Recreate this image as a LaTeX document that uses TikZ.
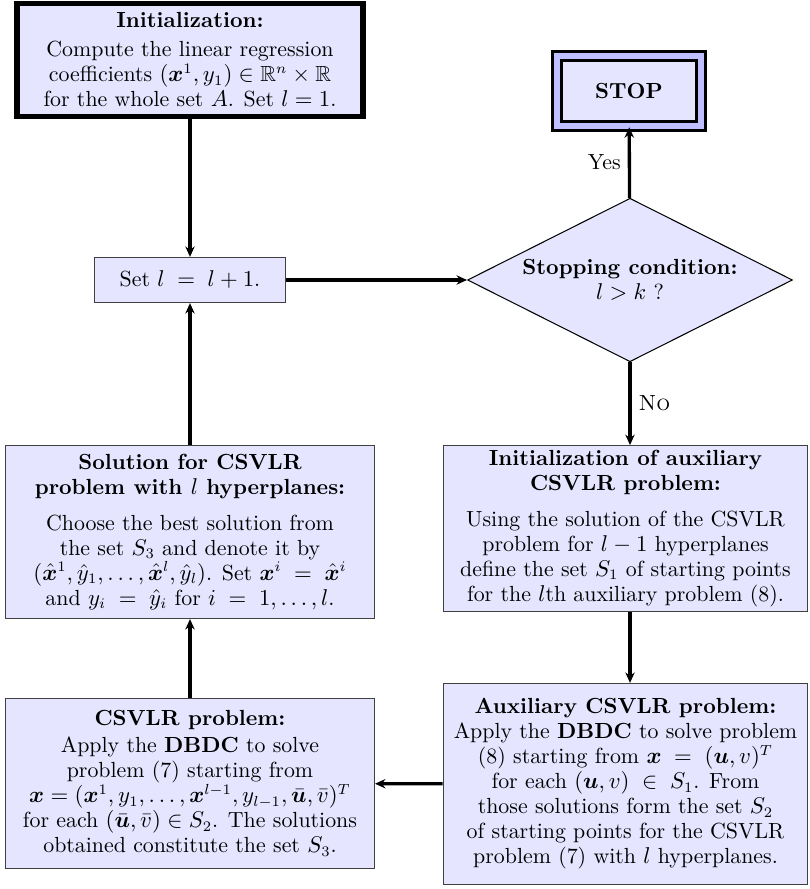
\documentclass[tikz,border=0pt]{standalone}
\usepackage{amsmath,amssymb,bm}
\usetikzlibrary{shapes.geometric,arrows.meta,positioning}

\tikzset{
  block/.style={rectangle, draw=black!75, line width=0.6pt, fill=blue!10, align=center, inner sep=2pt, font=\fontsize{10.5}{12}\selectfont},
  startblock/.style={block, draw=black, line width=2.6pt},
  stopblock/.style={block, draw=black, line width=1.4pt, double=blue!25, double distance=3pt, font=\fontsize{10.5}{12}\selectfont\bfseries},
  decision/.style={diamond, draw=black, line width=0.5pt, fill=blue!10, aspect=2, inner sep=0pt, align=center, font=\fontsize{10.5}{12}\selectfont},
  flow/.style={-{Stealth[length=5pt,width=4.5pt]}, line width=1.6pt},
}

\begin{document}
\begin{tikzpicture}[x=0.48pt,y=-0.48pt]
    \useasboundingbox (0,0) rectangle (810,889);

    \node(init) [startblock, minimum width=166pt, minimum height=54pt] at (190,60) {
        \textbf{Initialization:}\\[2pt]
        Compute the linear regression\\
        coefficients $(\bm{x}^1, y_1) \in \mathbb{R}^n \times \mathbb{R}$\\
        for the whole set $A$. Set $l = 1$.
    };
    \node(stop) [stopblock, minimum width=68.8pt, minimum height=33.4pt] at (629,91) {STOP};
    \node(setl) [block, minimum width=92pt, minimum height=21.6pt] at (190,280) {Set $l \;=\; l + 1$.};
    \node(cond) [decision, minimum width=156pt, minimum height=78.5pt] at (630,280) {
        \textbf{Stopping condition:}\\
        $l > k$ ?
    };
    \node(sol) [block, minimum width=177pt, minimum height=83pt] at (190,532) {
        \textbf{Solution for CSVLR}\\
        \textbf{problem with $l$ hyperplanes:}\\[5pt]
        Choose the best solution from\\
        the set $S_3$ and denote it by\\
        $(\hat{\bm{x}}^1, \hat{y}_1, \ldots, \hat{\bm{x}}^l, \hat{y}_l)$. Set $\bm{x}^i \;=\; \hat{\bm{x}}^i$\\
        and $y_i \;=\; \hat{y}_i$ for $i \;=\; 1, \ldots, l$.
    };
    \node(auxinit) [block, minimum width=175pt, minimum height=79.5pt] at (625.5,528.5) {
        \textbf{Initialization of auxiliary}\\
        \textbf{CSVLR problem:}\\[5pt]
        Using the solution of the CSVLR\\
        problem for $l - 1$ hyperplanes\\
        define the set $S_1$ of starting points\\
        for the $l$th auxiliary problem (8).
    };
    \node(csvlr) [block, minimum width=177pt, minimum height=81.5pt] at (190,783.5) {
        \textbf{CSVLR problem:}\\[1pt]
        Apply the \textbf{DBDC} to solve\\
        problem (7) starting from\\
        $\bm{x} = (\bm{x}^1, y_1, \ldots, \bm{x}^{l-1}, y_{l-1}, \bar{\bm{u}}, \bar{v})^T$\\
        for each $(\bar{\bm{u}}, \bar{v}) \in S_2$. The solutions\\
        obtained constitute the set $S_3$.
    };
    \node(auxcsvlr) [block, minimum width=175pt, minimum height=96.5pt] at (625.5,784) {
        \textbf{Auxiliary CSVLR problem:}\\
        Apply the \textbf{DBDC} to solve problem\\
        (8) starting from $\bm{x} \;=\; (\bm{u}, v)^T$\\
        for each $(\bm{u}, v) \;\in\; S_1$. From\\
        those solutions form the set $S_2$\\
        of starting points for the CSVLR\\
        problem (7) with $l$ hyperplanes.
    };

    \draw[flow] (init) -- (setl);
    \draw[flow] (setl) -- (cond);
    \draw[flow] (cond) -- (stop) node(yes) [midway, left, font=\fontsize{10.5}{12}\selectfont] {Yes};
    \draw[flow] (cond.south) -- (cond.south |- auxinit.north) node(no) [midway, right, font=\fontsize{10.5}{12}\selectfont] {\textsc{No}};
    \draw[flow] (cond.south |- auxinit.south) -- (cond.south |- auxcsvlr.north);
    \draw[flow] (auxcsvlr) -- (csvlr);
    \draw[flow] (csvlr) -- (sol);
    \draw[flow] (sol) -- (setl);
    \end{tikzpicture}
\end{document}
